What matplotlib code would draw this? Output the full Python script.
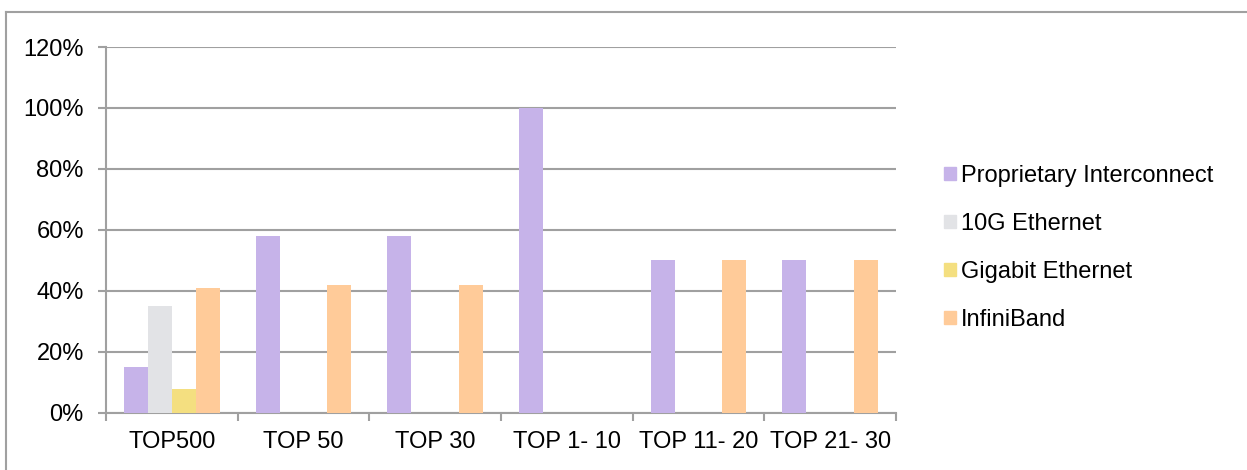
import matplotlib.pyplot as plt
import numpy as np
from matplotlib.lines import Line2D

plt.rcParams['font.family'] = ['Liberation Sans', 'DejaVu Sans']

categories = ['TOP500', 'TOP 50', 'TOP 30', 'TOP 1- 10', 'TOP 11- 20', 'TOP 21- 30']
series = ['Proprietary Interconnect', '10G Ethernet', 'Gigabit Ethernet', 'InfiniBand']
proprietary = [15, 58, 58, 100, 50, 50]
eth10g = [35, 0, 0, 0, 0, 0]
gigabit = [8, 0, 0, 0, 0, 0]
infiniband = [41, 42, 42, 0, 50, 50]
colors = ['#C6B3E9', '#E2E3E6', '#F4DF80', '#FFCB99']

fig = plt.figure(figsize=(12.47, 4.70), dpi=100)
ax = fig.add_axes([0.085, 0.1213, 0.6335, 0.7787])

x = np.arange(len(categories))
w = 0.182
for i, (vals, name) in enumerate(zip([proprietary, eth10g, gigabit, infiniband], series)):
    ax.bar(x + (i - 1.5) * w, vals, width=w, color=colors[i], label=name, zorder=3)

grid_col = '#A0A0A0'
ax.set_ylim(0, 120)
ax.set_xlim(-0.5, len(categories) - 0.5)
ax.set_yticks(range(0, 121, 20))
ax.set_yticklabels([f'{v}%' for v in range(0, 121, 20)], fontsize=17)
ax.yaxis.grid(True, color=grid_col, linewidth=1.5, zorder=0)
ax.set_xticks(x)
ax.set_xticklabels(categories, fontsize=17)
ax.set_xticks(np.arange(-0.5, len(categories)), minor=True)
ax.tick_params(axis='x', which='major', length=0, pad=13)
ax.tick_params(axis='x', which='minor', length=6, width=1.5, color=grid_col)
ax.tick_params(axis='y', length=6, width=1.5, color=grid_col, pad=10)
for s in ['top', 'right']:
    ax.spines[s].set_visible(False)
for s in ['left', 'bottom']:
    ax.spines[s].set_color(grid_col)
    ax.spines[s].set_linewidth(1.5)

handles = [plt.Rectangle((0, 0), 1, 1, color=c) for c in colors]
fig.legend(handles, series, loc='center left', bbox_to_anchor=(0.757, 0.473),
           frameon=False, fontsize=17, handlelength=0.5, handleheight=0.5,
           handletextpad=0.2, labelspacing=1.1, borderpad=0, borderaxespad=0)

# outer chart border
fig.add_artist(Line2D([0.005, 0.005], [0.0, 0.974], color=grid_col, linewidth=1.5))
fig.add_artist(Line2D([0.005, 1.0], [0.974, 0.974], color=grid_col, linewidth=1.5))

fig.savefig('out.png', dpi=100)
